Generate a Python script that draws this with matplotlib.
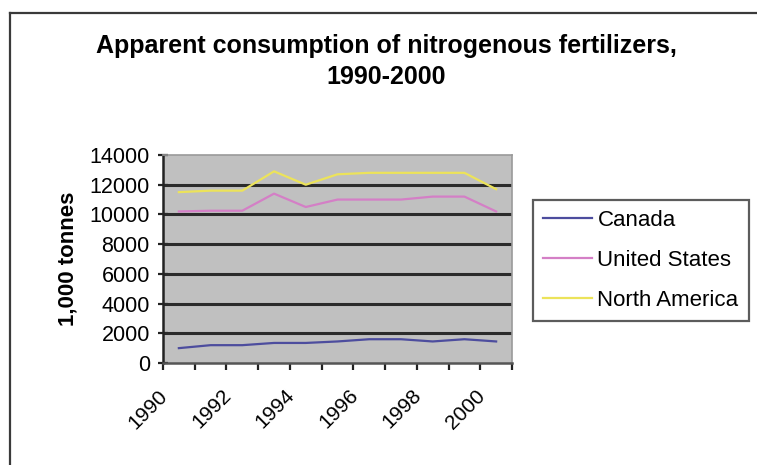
import matplotlib
matplotlib.use("Agg")
import matplotlib.pyplot as plt
from matplotlib.lines import Line2D
from matplotlib.transforms import ScaledTranslation
import numpy as np

years = [1990, 1991, 1992, 1993, 1994, 1995, 1996, 1997, 1998, 1999, 2000]
canada = [1000, 1200, 1200, 1350, 1350, 1450, 1600, 1600, 1450, 1600, 1450]
united_states = [10200, 10250, 10250, 11400, 10500, 11000, 11000, 11000, 11200, 11200, 10200]
north_america = [11500, 11600, 11600, 12900, 12000, 12700, 12800, 12800, 12800, 12800, 11700]
series_names = ["Canada", "United States", "North America"]
y_ticks = [0, 2000, 4000, 6000, 8000, 10000, 12000, 14000]
x_labels = ["1990", "1992", "1994", "1996", "1998", "2000"]

colors = ["#4d4d9e", "#d47fc6", "#ece35a"]
FONT = ["Liberation Sans", "DejaVu Sans"]

W, H = 757, 465
fig = plt.figure(figsize=(W / 100, H / 100), dpi=100)
fig.patch.set_facecolor("white")

# chart-area frame (left and top edges visible)
fig.add_artist(Line2D([10 / W, 10 / W], [0, 1 - 13 / H], transform=fig.transFigure,
                      color="#3a3a3a", lw=1.6))
fig.add_artist(Line2D([10 / W, 1], [1 - 13 / H, 1 - 13 / H], transform=fig.transFigure,
                      color="#3a3a3a", lw=1.6))

ax = fig.add_axes([163 / W, 1 - 363 / H, 349 / W, 208 / H])
ax.set_facecolor("#c0c0c0")

x = np.arange(len(years))
for vals, c, name in zip([canada, united_states, north_america], colors, series_names):
    ax.plot(x, vals, color=c, lw=1.6, label=name, zorder=3)

ax.set_xlim(-0.5, len(years) - 0.5)
ax.set_ylim(0, 14000)

ax.set_yticks(y_ticks)
ax.set_yticklabels([str(v) for v in y_ticks], fontfamily=FONT, fontsize=15.5)
for v in y_ticks[1:-1]:
    ax.axhline(v, color="#2b2b2b", lw=2.2, zorder=2)

# category boundaries carry the tick marks; year labels sit under every other category
ax.set_xticks(np.arange(-0.5, len(years), 1.0))
ax.set_xticklabels([])
label_offset = ScaledTranslation(-21 / 100, -23 / 100, fig.dpi_scale_trans)
for s in x_labels:
    ax.text(years.index(int(s)), 0, s, transform=ax.get_xaxis_transform() + label_offset,
            rotation=45, ha="right", va="top", rotation_mode="anchor",
            fontfamily=FONT, fontsize=15, clip_on=False)
ax.tick_params(axis="x", which="major", direction="out", length=5, width=1.6, color="#222222")
ax.tick_params(axis="y", direction="inout", length=7, width=1.6, color="#222222", pad=6)

for side in ["top", "right"]:
    ax.spines[side].set_color("#9a9a9a")
    ax.spines[side].set_linewidth(1.2)
ax.spines["left"].set_color("#222222")
ax.spines["left"].set_linewidth(1.8)
ax.spines["bottom"].set_color("#555555")
ax.spines["bottom"].set_linewidth(1.8)

ax.set_ylabel("1,000 tonnes", fontfamily=FONT, fontsize=16, fontweight="bold", labelpad=8)

fig.text(386 / W, 1 - 46 / H, "Apparent consumption of nitrogenous fertilizers,",
         ha="center", va="center", fontfamily=FONT, fontsize=18, fontweight="bold")
fig.text(386 / W, 1 - 77 / H, "1990-2000",
         ha="center", va="center", fontfamily=FONT, fontsize=18, fontweight="bold")

leg = fig.legend(loc="upper left", bbox_to_anchor=(533 / W, 1 - 200 / H),
                 bbox_transform=fig.transFigure, borderaxespad=0, frameon=True,
                 fancybox=False, prop={"family": FONT, "size": 16}, handlelength=2.2,
                 handletextpad=0.25, labelspacing=0.85, borderpad=0.45)
leg.get_frame().set_edgecolor("#333333")
leg.get_frame().set_linewidth(1.6)

fig.savefig("out.png", dpi=100)
